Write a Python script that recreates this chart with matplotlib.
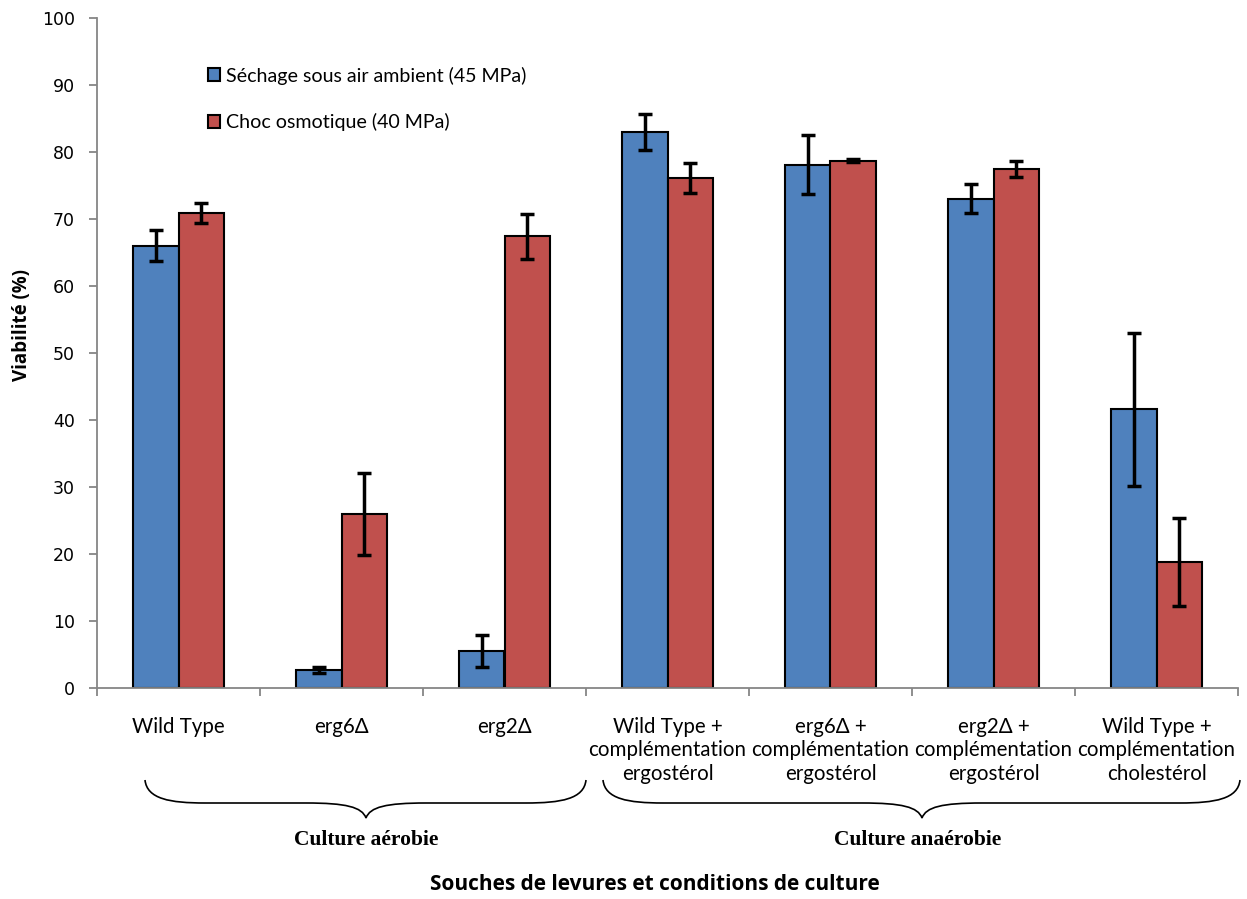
import numpy as np
import matplotlib
matplotlib.use("Agg")
import matplotlib.pyplot as plt
from matplotlib.path import Path
from matplotlib.patches import PathPatch


# ============================================================
# Data
# ============================================================

categories = [
    "Wild Type",
    "erg6\u0394",
    "erg2\u0394",
    "Wild Type +\ncompl\u00e9mentation\nergost\u00e9rol",
    "erg6\u0394 +\ncompl\u00e9mentation\nergost\u00e9rol",
    "erg2\u0394 +\ncompl\u00e9mentation\nergost\u00e9rol",
    "Wild Type +\ncompl\u00e9mentation\ncholest\u00e9rol",
]

sechage = [66.0, 2.7, 5.5, 83.0, 78.1, 73.0, 41.6]
sechage_err = [2.3, 0.4, 2.35, 2.7, 4.4, 2.15, 11.4]

choc = [70.9, 26.0, 67.4, 76.1, 78.7, 77.4, 18.8]
choc_err = [1.5, 6.1, 3.35, 2.2, 0.2, 1.2, 6.6]

series_labels = [
    "S\u00e9chage sous air ambient (45 MPa)",
    "Choc osmotique (40 MPa)",
]

group_labels = ["Culture a\u00e9robie", "Culture ana\u00e9robie"]

blue = "#4F81BD"
red = "#C0504D"
grey = "#868686"

W, H = 1247, 899


# ============================================================
# Figure
# ============================================================

fig = plt.figure(figsize=(W / 100, H / 100), dpi=100)

ax = fig.add_axes([97 / W, 1 - 688 / H, (1238 - 97) / W, (688 - 18) / H])

x = np.arange(len(categories))
width = 0.28

err_kw = dict(ecolor="black", elinewidth=2.5, capsize=5, capthick=2.5)

ax.bar(
    x - width / 2,
    sechage,
    width,
    yerr=sechage_err,
    color=blue,
    edgecolor="black",
    linewidth=1.5,
    error_kw=err_kw,
    label=series_labels[0],
    zorder=2
)

ax.bar(
    x + width / 2,
    choc,
    width,
    yerr=choc_err,
    color=red,
    edgecolor="black",
    linewidth=1.5,
    error_kw=err_kw,
    label=series_labels[1],
    zorder=2
)

ax.set_xlim(-0.5, len(categories) - 0.5)
ax.set_ylim(0, 100)

ax.set_yticks(np.arange(0, 101, 10))
ax.tick_params(
    axis="y",
    length=6,
    width=1.3,
    color=grey,
    pad=10,
    labelsize=12.5
)

ax.set_xticks(x)
ax.set_xticklabels(categories, fontfamily="Lato", fontsize=14.8, linespacing=1.2)
ax.tick_params(axis="x", which="major", length=0, pad=21)
ax.set_xticks(np.arange(-0.5, len(categories), 1), minor=True)
ax.tick_params(axis="x", which="minor", length=6, width=1.3, color=grey)

for side in ["top", "right"]:
    ax.spines[side].set_visible(False)
for side in ["left", "bottom"]:
    ax.spines[side].set_color(grey)
    ax.spines[side].set_linewidth(1.3)

fig.text(
    22 / W,
    1 - 325 / H,
    "Viabilit\u00e9 (%)",
    rotation=90,
    ha="center",
    va="center",
    fontsize=13.5,
    fontweight="bold",
    fontfamily="Open Sans"
)

fig.text(
    655 / W,
    1 - 885 / H,
    "Souches de levures et conditions de culture",
    ha="center",
    va="center",
    fontsize=15,
    fontweight="bold",
    fontfamily="Open Sans"
)

ax.legend(
    loc="upper left",
    bbox_to_anchor=(190 / W, 1 - 49 / H),
    bbox_transform=fig.transFigure,
    frameon=False,
    handlelength=0.65,
    handleheight=0.65,
    handletextpad=0.3,
    labelspacing=1.45,
    prop={"family": "Lato", "size": 14.1}
)


# ============================================================
# Braces
# ============================================================

def brace(x0, x1, xtip, ytop=780, ymid=803, ybot=818):

    verts = [
        (x0, ytop),
        (x0 + 2, ymid - 4), (x0 + 25, ymid), (x0 + 60, ymid),
        (xtip - 60, ymid),
        (xtip - 20, ymid), (xtip - 4, ymid + 4), (xtip, ybot),
        (xtip + 4, ymid + 4), (xtip + 20, ymid), (xtip + 60, ymid),
        (x1 - 60, ymid),
        (x1 - 25, ymid), (x1 - 2, ymid - 4), (x1, ytop),
    ]
    codes = [
        Path.MOVETO,
        Path.CURVE4, Path.CURVE4, Path.CURVE4,
        Path.LINETO,
        Path.CURVE4, Path.CURVE4, Path.CURVE4,
        Path.CURVE4, Path.CURVE4, Path.CURVE4,
        Path.LINETO,
        Path.CURVE4, Path.CURVE4, Path.CURVE4,
    ]
    verts = [(vx / W, 1 - vy / H) for vx, vy in verts]

    fig.add_artist(
        PathPatch(
            Path(verts, codes),
            facecolor="none",
            edgecolor="black",
            linewidth=1.2,
            transform=fig.transFigure
        )
    )


brace(145, 586, 366)
brace(603, 1240, 922)

fig.text(
    366 / W,
    1 - 840 / H,
    group_labels[0],
    ha="center",
    va="center",
    fontsize=15.5,
    fontweight="bold",
    fontfamily="Liberation Serif"
)

fig.text(
    918 / W,
    1 - 840 / H,
    group_labels[1],
    ha="center",
    va="center",
    fontsize=15.5,
    fontweight="bold",
    fontfamily="Liberation Serif"
)

fig.savefig("out.png", dpi=100)
